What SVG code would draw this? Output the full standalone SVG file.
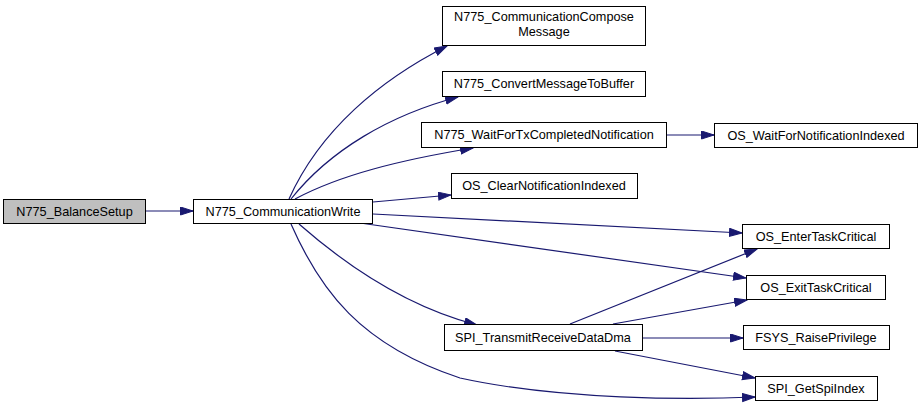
<svg xmlns="http://www.w3.org/2000/svg" width="923" height="411" viewBox="0 0 923 411">
<style>
.n rect{fill:#fff;stroke:#000;stroke-width:1}
.n.root rect{fill:#bfbfbf}
.n text{font-family:"Liberation Sans",Arial,sans-serif;font-size:12.7px;fill:#000;text-anchor:middle}
#edges path{fill:none;stroke:#191970;stroke-width:1.2;marker-end:url(#ah)}
</style>
<defs>
<marker id="ah" markerUnits="userSpaceOnUse" markerWidth="14" markerHeight="10" refX="13" refY="4.5" orient="auto">
<path d="M0.5,0.5 L13,4.5 L0.5,8.5 z" fill="#191970" stroke="#191970" stroke-width="1"/>
</marker>
</defs>
<rect width="923" height="411" fill="#fff"/>
<g id="edges">
<path d="M146,211 L193,211"/>
<path d="M289,199 C320,130 380,80 447,46"/>
<path d="M291,199 C330,150 390,115 458,97"/>
<path d="M295,199 C340,175 400,160 473,148"/>
<path d="M373,202 L451,195"/>
<path d="M373,214 L742,233"/>
<path d="M360,223 L746,278"/>
<path d="M299,224 C340,260 400,305 477,325"/>
<path d="M291,224 C320,290 360,345 460,378 C560,400 690,400 755,397"/>
<path d="M666,135 L714,135"/>
<path d="M570,324 L757,249"/>
<path d="M613,324 L747,300"/>
<path d="M642,338 L743,338"/>
<path d="M615,351 L755,378"/>
</g>
<g id="n_balance" class="n root"><rect x="3.5" y="199.5" width="142" height="24"/><text x="74.5" y="216">N775_BalanceSetup</text></g>
<g id="n_commwrite" class="n"><rect x="193.5" y="199.5" width="179" height="24"/><text x="283" y="216">N775_CommunicationWrite</text></g>
<g id="n_compose" class="n"><rect x="442.5" y="6.5" width="203" height="39"/><text x="544" y="21">N775_CommunicationCompose</text><text x="544" y="36">Message</text></g>
<g id="n_convert" class="n"><rect x="442.5" y="71.5" width="203" height="25"/><text x="544" y="88">N775_ConvertMessageToBuffer</text></g>
<g id="n_waittx" class="n"><rect x="421.5" y="122.5" width="245" height="25"/><text x="544" y="139">N775_WaitForTxCompletedNotification</text></g>
<g id="n_oswait" class="n"><rect x="714.5" y="123.5" width="203" height="24"/><text x="816" y="140">OS_WaitForNotificationIndexed</text></g>
<g id="n_clear" class="n"><rect x="451.5" y="173.5" width="186" height="25"/><text x="544" y="190">OS_ClearNotificationIndexed</text></g>
<g id="n_enter" class="n"><rect x="742.5" y="224.5" width="147" height="24"/><text x="816" y="241">OS_EnterTaskCritical</text></g>
<g id="n_exit" class="n"><rect x="746.5" y="275.5" width="139" height="24"/><text x="816" y="292">OS_ExitTaskCritical</text></g>
<g id="n_fsys" class="n"><rect x="743.5" y="325.5" width="146" height="24"/><text x="816" y="342">FSYS_RaisePrivilege</text></g>
<g id="n_getspi" class="n"><rect x="755.5" y="376.5" width="122" height="24"/><text x="816" y="393">SPI_GetSpiIndex</text></g>
<g id="n_spitx" class="n"><rect x="444.5" y="324.5" width="198" height="26"/><text x="543" y="342">SPI_TransmitReceiveDataDma</text></g>
</svg>
